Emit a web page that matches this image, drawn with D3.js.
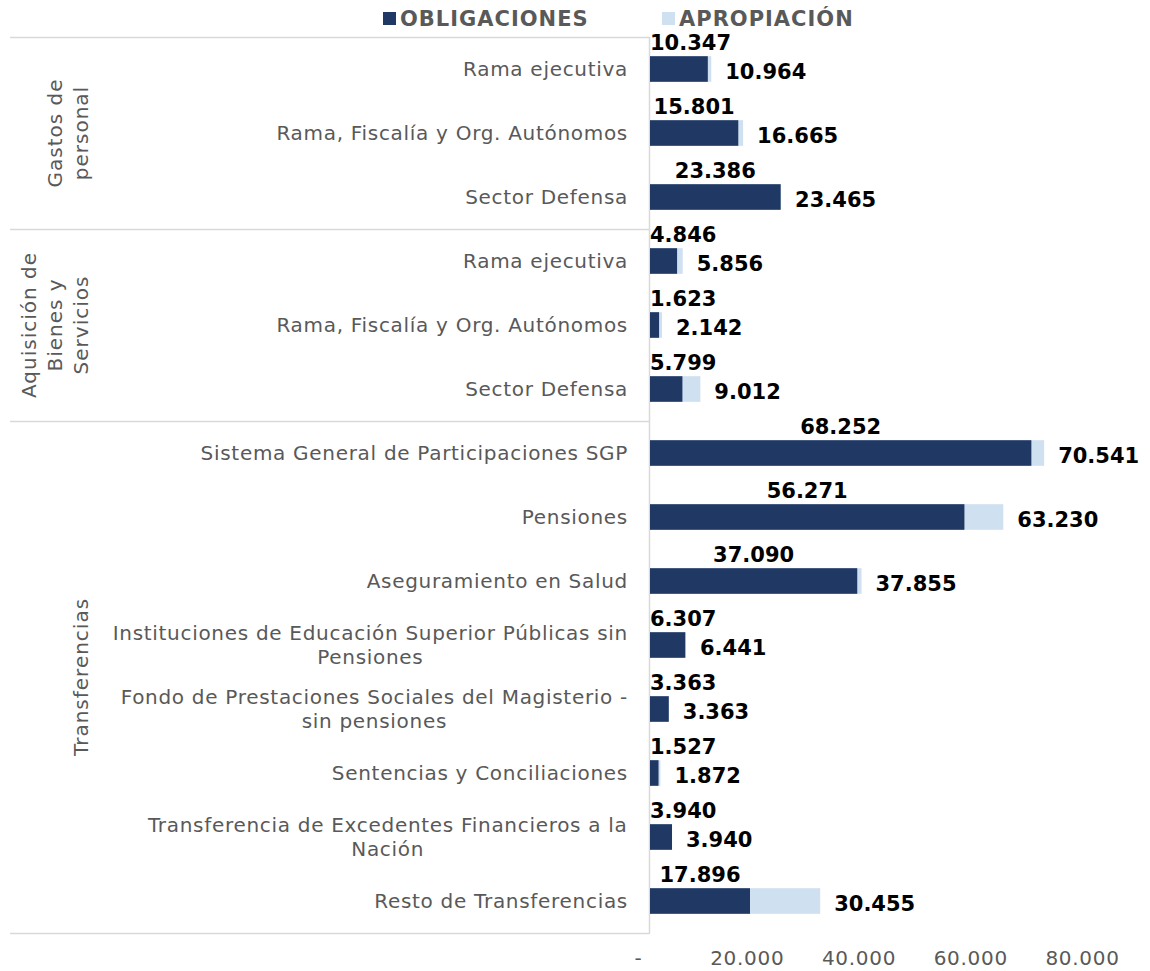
<!DOCTYPE html>
<html>
<head>
<meta charset="utf-8">
<script src="https://cdn.jsdelivr.net/npm/d3@7"></script>
<style>
  body { margin: 0; background: #fff; }
  svg text { font-family: "DejaVu Sans", Verdana, sans-serif; }
</style>
</head>
<body>
<div id="chart"></div>
<script>
// data (miles de millones)
var categories = [
  'Rama ejecutiva', 'Rama, Fiscalía y Org. Autónomos', 'Sector Defensa',
  'Rama ejecutiva', 'Rama, Fiscalía y Org. Autónomos', 'Sector Defensa',
  'Sistema General de Participaciones SGP', 'Pensiones', 'Aseguramiento en Salud',
  'Instituciones de Educación Superior Públicas sin|Pensiones',
  'Fondo de Prestaciones Sociales del Magisterio -|sin pensiones',
  'Sentencias y Conciliaciones',
  'Transferencia de Excedentes Financieros a la|Nación',
  'Resto de Transferencias'
];
var groups = [
  {name: 'Gastos de|personal', from: 0, to: 2},
  {name: 'Aquisición de|Bienes y|Servicios', from: 3, to: 5},
  {name: 'Transferencias', from: 6, to: 13}
];
var obligaciones = [10347, 15801, 23386, 4846, 1623, 5799, 68252, 56271, 37090, 6307, 3363, 1527, 3940, 17896];
var apropiacion = [10964, 16665, 23465, 5856, 2142, 9012, 70541, 63230, 37855, 6441, 3363, 1872, 3940, 30455];
var series = ['OBLIGACIONES', 'APROPIACIÓN'];
var tickValues = [0, 20000, 40000, 60000, 80000];

(function() {
  var width = 1150, height = 971;
  var gray = '#595959', dark = '#203864', light = '#cfe0f1', rule = '#d9d9d9';
  var es = d3.formatLocale({decimal: ',', thousands: '.', grouping: [3], currency: ['$', '']});
  var fmt = es.format(',d');

  var svg = d3.select('#chart').append('svg').attr('width', width).attr('height', height);

  var x = d3.scaleLinear().domain([0, 80000]).range([650, 1097]);
  var y = d3.scaleBand().domain(d3.range(categories.length)).range([37, 933])
    .paddingInner(0.6).paddingOuter(0.3);
  var step = y.step(), bw = y.bandwidth();
  var mid = function(i) { return y(i) + bw / 2; };

  // legend
  var legend = svg.append('g').attr('transform', 'translate(0,18)');
  var legX = [383, 662];
  series.forEach(function(s, i) {
    legend.append('rect').attr('x', legX[i]).attr('y', -6).attr('width', 13).attr('height', 13)
      .attr('fill', i === 0 ? dark : light);
    legend.append('text').attr('x', legX[i] + 17).attr('y', 0).attr('dy', '0.36em')
      .attr('font-size', 21).attr('letter-spacing', 1).attr('font-weight', 'bold')
      .attr('fill', gray).text(s);
  });

  // group separators
  var bounds = [0].concat(groups.map(function(g) { return g.to + 1; }));
  svg.append('g').selectAll('line').data(bounds).enter().append('line')
    .attr('x1', 10).attr('x2', x(0))
    .attr('y1', function(d) { return Math.round(y.range()[0] + d * step) + 0.5; })
    .attr('y2', function(d) { return Math.round(y.range()[0] + d * step) + 0.5; })
    .attr('stroke', rule).attr('stroke-width', 1.5);

  // axis line
  svg.append('line').attr('x1', x(0) - 0.5).attr('x2', x(0) - 0.5)
    .attr('y1', y.range()[0]).attr('y2', y.range()[1])
    .attr('stroke', rule).attr('stroke-width', 1.5);

  // group labels
  groups.forEach(function(g) {
    var lines = g.name.split('|');
    var cy = (y.range()[0] + g.from * step + y.range()[0] + (g.to + 1) * step) / 2;
    var t = svg.append('text')
      .attr('transform', 'translate(' + (81 - (lines.length - 1) * 26) + ',' + cy + ')rotate(-90)')
      .attr('text-anchor', 'middle').attr('font-size', 20).attr('letter-spacing', 1)
      .attr('fill', gray);
    lines.forEach(function(l, k) {
      t.append('tspan').attr('x', 0).attr('dy', k === 0 ? '0.36em' : 26).text(l);
    });
  });

  // category labels
  var cat = svg.append('g').selectAll('text').data(categories).enter().append('text')
    .attr('font-size', 20).attr('letter-spacing', 0.7).attr('fill', gray)
    .attr('text-anchor', 'middle');
  cat.each(function(d, i) {
    var lines = d.split('|');
    var t = d3.select(this);
    lines.forEach(function(l, k) {
      t.append('tspan').attr('x', 0)
        .attr('y', mid(i) + (k - (lines.length - 1) / 2) * 24).attr('dy', '0.36em').text(l);
    });
    // right align the block next to the axis, lines centred on each other
    var w = this.getBBox().width;
    t.selectAll('tspan').attr('x', x(0) - 22 - w / 2);
  });

  // bars
  svg.append('g').selectAll('rect').data(apropiacion).enter().append('rect')
    .attr('x', x(0)).attr('y', function(d, i) { return y(i); })
    .attr('width', function(d) { return x(d) - x(0); }).attr('height', bw)
    .attr('fill', light);
  svg.append('g').selectAll('rect').data(obligaciones).enter().append('rect')
    .attr('x', x(0)).attr('y', function(d, i) { return y(i); })
    .attr('width', function(d) { return x(d) - x(0); }).attr('height', bw)
    .attr('fill', dark);

  // value labels
  svg.append('g').selectAll('text').data(obligaciones).enter().append('text')
    .attr('font-size', 21).attr('font-weight', 'bold').attr('fill', '#000')
    .attr('y', function(d, i) { return mid(i) - 27; }).attr('dy', '0.36em')
    .text(fmt)
    .each(function(d) {
      var w = this.getComputedTextLength();
      var cx = Math.max((x(0) + x(d)) / 2, x(0) + w / 2);
      d3.select(this).attr('x', cx).attr('text-anchor', 'middle');
    });
  svg.append('g').selectAll('text').data(apropiacion).enter().append('text')
    .attr('font-size', 21).attr('font-weight', 'bold').attr('fill', '#000')
    .attr('x', function(d) { return x(d) + 14; })
    .attr('y', function(d, i) { return mid(i) + 2; }).attr('dy', '0.36em')
    .text(fmt);

  // x axis
  var axis = d3.axisBottom(x).tickValues(tickValues).tickSize(0)
    .tickFormat(function(d) { return d === 0 ? '-' : fmt(d); });
  var ga = svg.append('g').attr('transform', 'translate(0,948)').call(axis);
  ga.select('.domain').remove();
  ga.selectAll('text').attr('font-size', 20).attr('letter-spacing', 0.7).attr('fill', gray)
    .attr('font-family', '"DejaVu Sans", Verdana, sans-serif')
    .attr('dx', function(d) { return d === 0 ? -12 : -15; });
}).call(this);
</script>
</body>
</html>
